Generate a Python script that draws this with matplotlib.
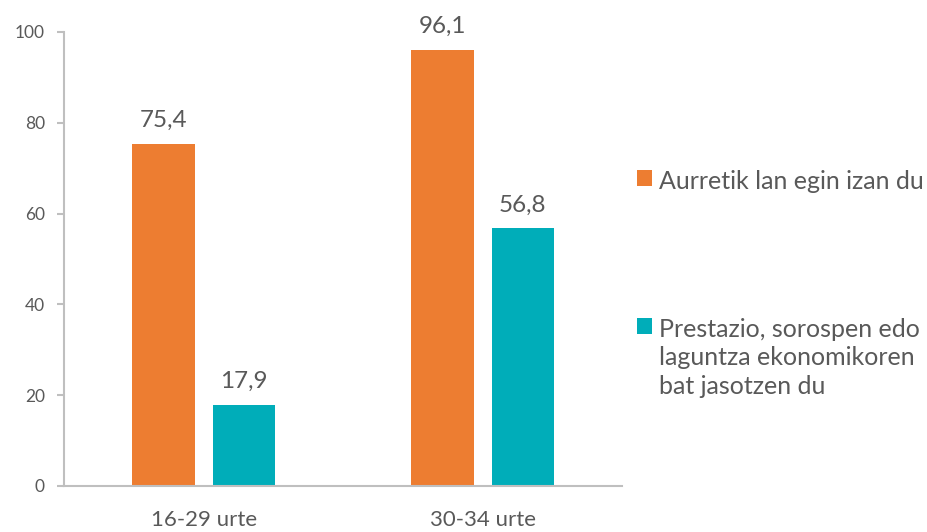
import numpy as np
import matplotlib
matplotlib.use("Agg")
import matplotlib.pyplot as plt

# data
categories = ["16-29 urte", "30-34 urte"]
series_names = ["Aurretik lan egin izan du",
                "Prestazio, sorospen edo\nlaguntza ekonomikoren\nbat jasotzen du"]
worked_before = [75.4, 96.1]
gets_benefit = [17.9, 56.8]
y_ticks = [0, 20, 40, 60, 80, 100]

orange = "#ED7D31"
teal = "#00ADB9"
txt = "#595959"
grey = "#BFBFBF"

plt.rcParams["font.family"] = ["Lato", "DejaVu Sans"]

fig = plt.figure(figsize=(9.27, 5.32), dpi=100)
ax = fig.add_axes([0.0695, 0.0865, 0.6015, 0.8535])

x = np.arange(len(categories))
w = 0.224
off = 0.144
b1 = ax.bar(x - off, worked_before, w, color=orange, label=series_names[0])
b2 = ax.bar(x + off, gets_benefit, w, color=teal, label=series_names[1])

# value labels, comma as decimal sign
for bars, vals in ((b1, worked_before), (b2, gets_benefit)):
    for r, v in zip(bars, vals):
        ax.annotate(f"{v:.1f}".replace(".", ","),
                    (r.get_x() + r.get_width() / 2, v),
                    xytext=(0, 9), textcoords="offset points",
                    ha="center", va="bottom", fontsize=17.5, color=txt)

ax.set_xlim(-0.5, 1.5)
ax.set_ylim(0, 100)
ax.set_yticks(y_ticks)
ax.set_xticks(x)
ax.set_xticklabels(categories)

for s in ("top", "right"):
    ax.spines[s].set_visible(False)
for s in ("left", "bottom"):
    ax.spines[s].set_color(grey)
    ax.spines[s].set_linewidth(1.5)

ax.tick_params(axis="y", length=5, width=1.5, color=grey, labelsize=12.5,
               labelcolor=txt, pad=9)
ax.tick_params(axis="x", length=0, labelsize=16, labelcolor=txt, pad=17)

leg = ax.legend(loc="upper left", bbox_to_anchor=(0.687, 0.681),
                bbox_transform=fig.transFigure, frameon=False,
                fontsize=18, handlelength=0.6, handleheight=0.6,
                handletextpad=0.3, labelspacing=5.0, borderpad=0,
                borderaxespad=0)
for t in leg.get_texts():
    t.set_color(txt)
    t.set_linespacing(1.3)
# put the square next to the first line of a wrapped label
for col in leg._legend_handle_box.get_children():
    for item in col.get_children():
        item.align = "top"

fig.savefig("out.png", dpi=100)
